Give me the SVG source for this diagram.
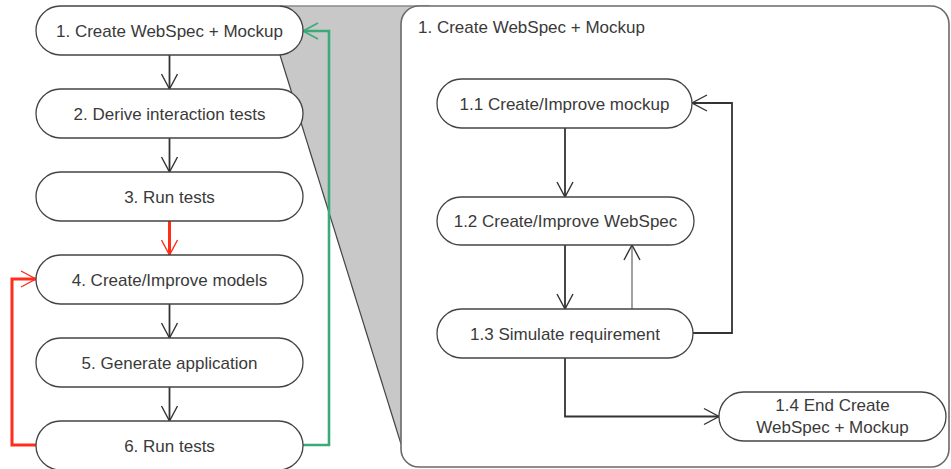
<svg xmlns="http://www.w3.org/2000/svg" width="951" height="469" viewBox="0 0 951 469">
  <style>
    .node rect { fill: #ffffff; stroke: #444444; stroke-width: 1.3; }
    .node text, .title { font-family: "Liberation Sans", Arial, sans-serif; font-size: 17px; fill: #3a3a3a; text-anchor: middle; }
    .title { text-anchor: start; }
    .flow { fill: none; stroke: #333333; stroke-width: 1.8; }
    .thin { fill: none; stroke: #555555; stroke-width: 1.1; }
    .red { fill: none; stroke: #ff2d1a; stroke-width: 3; }
    .green { fill: none; stroke: #3aaa78; stroke-width: 2.6; }
  </style>
  <defs>
    <marker id="arrow" markerUnits="userSpaceOnUse" markerWidth="20" markerHeight="20" refX="0" refY="0" viewBox="-16 -10 20 20" orient="auto" overflow="visible">
      <path d="M-15,-8 L0,0 L-15,8" fill="none" stroke="#333333" stroke-width="1.4"/>
    </marker>
    <marker id="arrow-red" markerUnits="userSpaceOnUse" markerWidth="20" markerHeight="20" refX="0" refY="0" viewBox="-16 -10 20 20" orient="auto" overflow="visible">
      <path d="M-15,-8 L0,0 L-15,8" fill="none" stroke="#ff2d1a" stroke-width="1.4"/>
    </marker>
    <marker id="arrow-green" markerUnits="userSpaceOnUse" markerWidth="20" markerHeight="20" refX="0" refY="0" viewBox="-16 -10 20 20" orient="auto" overflow="visible">
      <path d="M-15,-8 L0,0 L-15,8" fill="none" stroke="#3aaa78" stroke-width="1.6"/>
    </marker>
  </defs>

  <!-- zoom funnel from step 1 to its detail panel -->
  <g id="zoom-funnel">
    <polygon points="270,6 430,6 430,440 401,444 280,55 270,30" fill="#c8c8c8"/>
    <line x1="280" y1="6" x2="430" y2="6" stroke="#8a8a8a" stroke-width="1.6"/>
    <line x1="280" y1="55" x2="401" y2="444" stroke="#444444" stroke-width="1.2"/>
  </g>

  <!-- detail panel -->
  <g id="detail-panel">
    <rect x="401" y="6" width="548" height="461" rx="18" ry="18" fill="#ffffff" stroke="#6a6a6a" stroke-width="1.6"/>
    <text class="title" x="418" y="33">1. Create WebSpec + Mockup</text>
  </g>

  <!-- connectors -->
  <g id="connectors">
    <line class="flow" x1="169.5" y1="55" x2="169.5" y2="89" marker-end="url(#arrow)"/>
    <line class="flow" x1="169.5" y1="138" x2="169.5" y2="172" marker-end="url(#arrow)"/>
    <line class="red" x1="169.5" y1="221" x2="169.5" y2="255" marker-end="url(#arrow-red)"/>
    <line class="flow" x1="169.5" y1="304" x2="169.5" y2="338" marker-end="url(#arrow)"/>
    <line class="flow" x1="169.5" y1="387" x2="169.5" y2="421" marker-end="url(#arrow)"/>
    <polyline class="red" points="36,445 12,445 12,279 36,279" marker-end="url(#arrow-red)"/>
    <polyline class="green" points="303,445 329,445 329,31 303,31" marker-end="url(#arrow-green)"/>

    <line class="flow" x1="565" y1="128" x2="565" y2="197" marker-end="url(#arrow)"/>
    <line class="flow" x1="565" y1="245" x2="565" y2="309" marker-end="url(#arrow)"/>
    <line class="thin" x1="632" y1="309" x2="632" y2="245" marker-end="url(#arrow)"/>
    <polyline class="flow" points="693,333 732,333 732,103 692,103" marker-end="url(#arrow)"/>
    <polyline class="flow" points="565,358 565,416.5 719,416.5" marker-end="url(#arrow)"/>
  </g>

  <!-- main process steps -->
  <g id="step1" class="node">
    <rect x="36" y="6" width="267" height="49" rx="24.5"/>
    <text x="169.5" y="36.5">1. Create WebSpec + Mockup</text>
  </g>
  <g id="step2" class="node">
    <rect x="36" y="89" width="267" height="49" rx="24.5"/>
    <text x="169.5" y="119.5">2. Derive interaction tests</text>
  </g>
  <g id="step3" class="node">
    <rect x="36" y="172" width="267" height="49" rx="24.5"/>
    <text x="169.5" y="202.5">3. Run tests</text>
  </g>
  <g id="step4" class="node">
    <rect x="36" y="255" width="267" height="49" rx="24.5"/>
    <text x="169.5" y="285.5">4. Create/Improve models</text>
  </g>
  <g id="step5" class="node">
    <rect x="36" y="338" width="267" height="49" rx="24.5"/>
    <text x="169.5" y="368.5">5. Generate application</text>
  </g>
  <g id="step6" class="node">
    <rect x="36" y="421" width="267" height="49" rx="24.5"/>
    <text x="169.5" y="451.5">6. Run tests</text>
  </g>

  <!-- sub-steps of step 1 -->
  <g id="step1-1" class="node">
    <rect x="437" y="79" width="255" height="49" rx="24.5"/>
    <text x="564.5" y="109.5">1.1 Create/Improve mockup</text>
  </g>
  <g id="step1-2" class="node">
    <rect x="437" y="197" width="257" height="48" rx="24"/>
    <text x="565.5" y="227">1.2 Create/Improve WebSpec</text>
  </g>
  <g id="step1-3" class="node">
    <rect x="437" y="309" width="256" height="49" rx="24.5"/>
    <text x="565" y="339.5">1.3 Simulate requirement</text>
  </g>
  <g id="step1-4" class="node">
    <rect x="719" y="392" width="227" height="49" rx="24.5"/>
    <text x="832.5" y="411">1.4 End Create</text>
    <text x="832.5" y="433">WebSpec + Mockup</text>
  </g>
</svg>
